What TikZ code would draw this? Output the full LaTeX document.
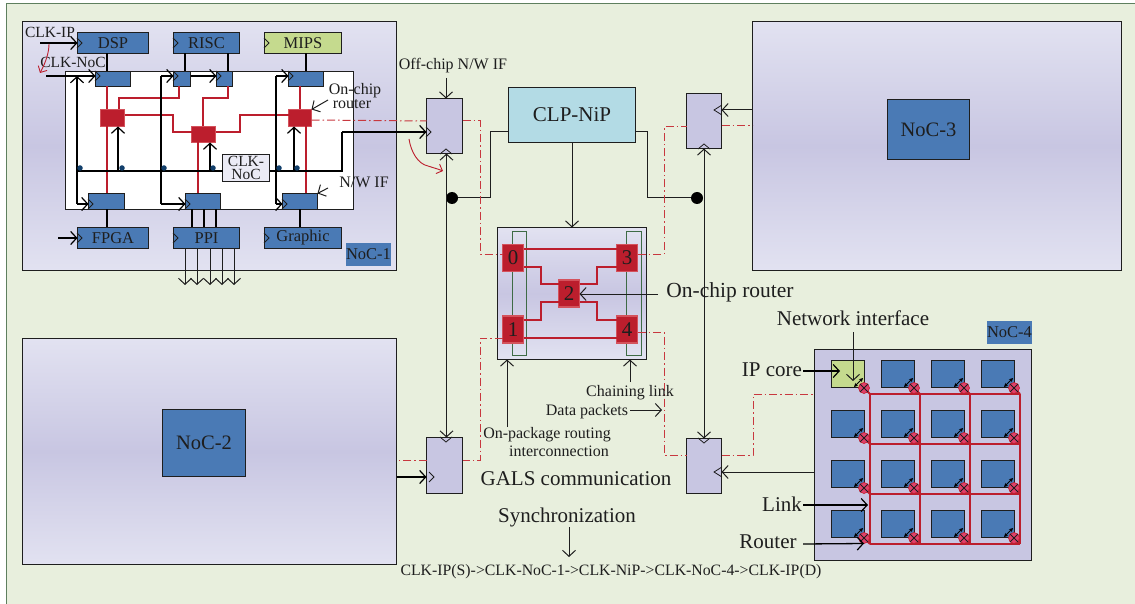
\documentclass[tikz,border=0pt]{standalone}
\usepackage{fontspec}
\setmainfont{Liberation Serif}
\usetikzlibrary{arrows.meta,calc}
\definecolor{bgc}{HTML}{E8EFDD}
\definecolor{frm}{HTML}{5E7F5E}
\definecolor{lav}{HTML}{C8C6E2}
\definecolor{lavl}{HTML}{E2E2F1}
\definecolor{blu}{HTML}{4A7AB5}
\definecolor{grn}{HTML}{C5DA8E}
\definecolor{rd}{HTML}{BC1E2D}
\definecolor{rdl}{HTML}{D4525C}
\definecolor{dashr}{HTML}{C8383F}
\definecolor{cyn}{HTML}{B3DBE5}
\definecolor{ink}{HTML}{1E1E1E}
\definecolor{pnk}{HTML}{E0406A}
\definecolor{dotb}{HTML}{123F6B}
\definecolor{chn}{HTML}{3E6B45}
\tikzset{
  every node/.style={text=ink,inner sep=0pt,outer sep=0pt,align=center},
  bar/.style={-{Straight Barb[length=6pt,width=13pt,line width=1pt]},line width=1pt,draw=ink},
  barb/.style={{Straight Barb[length=6pt,width=13pt,line width=1pt]}-{Straight Barb[length=6pt,width=13pt,line width=1pt]},line width=1pt,draw=ink},
  thk/.style={line width=1.3pt,draw=black},
  thkbar/.style={-{Straight Barb[length=6pt,width=13pt,line width=1.2pt]},line width=1.3pt,draw=black},
  rline/.style={line width=1.6pt,draw=rd},
  rthin/.style={line width=1.1pt,draw=rd},
  ddot/.style={line width=1pt,draw=dashr,dash pattern=on 8pt off 3pt on 1.5pt off 3pt},
  chev/.style={line width=.8pt,draw=ink},
  ipblk/.style={draw=ink,line width=1.1pt,fill=blu},
  gblk/.style={draw=ink,line width=1.1pt,fill=grn},
  nifs/.style={draw=ink,line width=1pt,fill=blu},
  offni/.style={draw=ink,line width=1.1pt,fill=lav},
  rtrs/.style={draw=rdl,line width=1pt,fill=rd},
  rtrb/.style={draw=rdl,line width=1.2pt,fill=rd},
  noc/.style={draw=ink,line width=1pt,shade,top color=lavl,bottom color=lavl,middle color=lav},
  lbl/.style={font=\fontsize{#1}{#1}\selectfont},
  lbl/.default=16,
  dotn/.style={circle,fill=dotb,minimum size=5.5pt},
  bdot/.style={circle,fill=black,minimum size=12pt},
}
% \bx{style}{name}{x1}{y1}{x2}{y2}{text}
\newcommand{\bx}[7]{%
  \pgfmathsetmacro{\bxcx}{(#3+#5)/2}\pgfmathsetmacro{\bxcy}{(#4+#6)/2}%
  \pgfmathsetmacro{\bxw}{#5-#3}\pgfmathsetmacro{\bxh}{#6-#4}%
  \node[#1,minimum width=\bxw pt-1pt,minimum height=\bxh pt-1pt] (#2) at (\bxcx,\bxcy) {#7};}
\newcommand{\chevL}[2]{\draw[chev] (#1,#2-5) -- (#1+5,#2) -- (#1,#2+5);}
\newcommand{\chevR}[2]{\draw[chev] (#1,#2-5) -- (#1-8,#2) -- (#1,#2+5);}
\newcommand{\chevU}[2]{\draw[chev] (#1-6,#2) -- (#1,#2-5) -- (#1+6,#2);}
\newcommand{\chevD}[2]{\draw[chev] (#1-6,#2) -- (#1,#2+5) -- (#1+6,#2);}
\begin{document}
\begin{tikzpicture}[x=1pt,y=-1pt,line join=miter]
\useasboundingbox (0,0) rectangle (1135,604);
\fill[white] (0,0) rectangle (1135,604);
\fill[bgc] (6,4) rectangle (1135,604);
\draw[frm,line width=1pt] (6,604) -- (6,4) -- (1135,4);

% ---- big NoC panels
\bx{noc}{noca}{22}{21}{397}{271}{}
\bx{noc}{nocb}{22}{338}{397}{565}{}
\bx{noc}{nocc}{752}{21}{1122}{271}{}
\bx{ipblk,lbl=20.5}{nocbin}{162}{409}{246}{477}{NoC-2}
\bx{ipblk,lbl=20.5}{noccin}{887}{99}{970}{160}{NoC-3}
\node[fill=blu,lbl=16.5,minimum width=45pt,minimum height=23pt] (noclbl) at (368.5,254.5) {NoC-1};

% ---- NoC-1 interior
\bx{draw=ink,line width=1pt,fill=white}{inner}{65}{71}{354}{210}{}
\bx{ipblk,lbl=16.5}{dsp}{77}{32}{149}{54}{DSP}
\bx{ipblk,lbl=16.5}{risc}{173}{32}{240}{54}{RISC}
\bx{gblk,lbl=16.5}{mips}{264}{32}{342}{54}{MIPS}
\bx{ipblk,lbl=16.5}{fpga}{77}{227}{149}{249}{FPGA}
\bx{ipblk,lbl=16.5}{ppi}{173}{227}{240}{249}{PPI}
\bx{ipblk,lbl=16.5}{graphic}{264}{227}{342}{249}{Graphic}
\bx{nifs}{nia}{95}{71}{131}{87}{}
\bx{nifs}{nib}{173}{71}{191}{87}{}
\bx{nifs}{nic}{216}{71}{233}{87}{}
\bx{nifs}{nid}{288}{71}{324}{87}{}
\bx{nifs}{nie}{88}{193}{125}{210}{}
\bx{nifs}{nif}{185}{193}{221}{210}{}
\bx{nifs}{nig}{282}{193}{318}{210}{}
\bx{draw=ink,line width=1pt,fill=lavl!70!white,lbl=15.5}{clk}{222}{154}{270}{182}{CLK-\\[-2pt]NoC}
\node[lbl=15.5] (tclkip) at (50,32) {CLK-IP};
\node[lbl=15.5] (tclknoc) at (73,62) {CLK-NoC};
\node[lbl=16] (tonchip) at (355,91) {On-chip};
\node[lbl=16] (trouter) at (352,104.5) {router};
\node[lbl=16] (tnwif) at (364,182) {N/W IF};

% IP to NI stubs
\draw[thk] (dsp.south -| 107,0) -- (nia.north -| 107,0);
\draw[thk] (risc.south -| 185,0) -- (nib.north -| 185,0);
\draw[thk] (risc.south -| 228,0) -- (nic.north -| 228,0);
\draw[thk] (mips.south -| 306,0) -- (nid.north -| 306,0);
\draw[thk] (nie.south -| 107,0) -- (fpga.north -| 107,0);
\draw[thk] (nig.south -| 300,0) -- (graphic.north -| 300,0);
\foreach \xx in {192,204,216} \draw[thk] (nif.south -| \xx,0) -- (ppi.north -| \xx,0);
\foreach \xx in {185,197,210,222,234} \draw[bar] (ppi.south -| \xx,0) -- (\xx,285);

% routers NoC-1 and links
\bx{rtrs}{ra}{100}{109}{125}{127}{}
\bx{rtrs}{rb}{191}{126}{216}{143}{}
\bx{rtrs}{rc}{288}{109}{312}{127}{}
\draw[rline] (nia.south -| 107,0) -- (ra.north -| 107,0);
\draw[rline] (ra.south -| 107,0) -- (nie.north -| 107,0);
\draw[rline] (nib.south -| 179,0) |- (119,98) -- (ra.north -| 119,0);
\draw[rline] (nic.south -| 228,0) |- (203,98) -- (rb.north -| 203,0);
\draw[rline] (nid.south -| 300,0) -- (rc.north -| 300,0);
\draw[rline] (rc.south -| 306,0) -- (nig.north -| 306,0);
\draw[rline] (rb.south -| 198,0) -- (nif.north -| 198,0);
\draw[rline] (ra.east |- 0,115) -- (173,115) |- (rb.west |- 0,132);
\draw[rline] (rb.east |- 0,132) -- (240,132) |- (rc.west |- 0,115);

% clock net inside NoC-1
\coordinate (wl) at (77,171);
\coordinate (wr) at (342,171);
\draw[thk] (wl) -- (clk.west |- wl);
\draw[thk] (clk.east |- wr) -- (wr) -- (342,132);
\draw[thkbar] (118,171) -- (ra.south -| 118,0);
\draw[thkbar] (210,171) -- (rb.south -| 210,0);
\draw[thkbar] (294,171) -- (rc.south -| 294,0);
\draw[thkbar] (77,204) -- (77,76);
\draw[thkbar] (161,76) -- (nib.west |- 0,76);
\draw[thkbar] (276,76) -- (nid.west |- 0,76);
\draw[thk] (161,76) -- (161,204);
\draw[thk] (276,76) -- (276,204);
\draw[thkbar] (77,204) -- (nie.west |- 0,204);
\draw[thkbar] (161,204) -- (nif.west |- 0,204);
\draw[thkbar] (276,204) -- (nig.west |- 0,204);
\draw[thkbar] (nib.east |- 0,76) -- (nic.west |- 0,76);
\draw[thkbar] (46,76) -- (nia.west |- 0,76);
\draw[thkbar] (40,43) -- (dsp.west |- 0,43);
\draw[thkbar] (58,238) -- (fpga.west |- 0,238);
\foreach \xx/\nn in {80/a,122/b,164/c,213/d,279/e,297/f} \node[dotn] (dot\nn) at (\xx,168) {};
\draw[rd,line width=.9pt,-{Straight Barb[length=5pt,width=10pt,line width=.9pt]}] (49,44) .. controls (49,52) and (46,62) .. (40,73);

\chevL{77}{43}\chevL{173}{43}\chevL{264}{43}
\chevL{77}{238}\chevL{173}{238}\chevL{264}{238}
\chevL{95}{76}\chevL{173}{76}\chevL{216}{76}\chevL{288}{76}
\chevL{88}{204}\chevL{185}{204}\chevL{282}{204}

\draw[bar] (328,100) -- (rc.north east);
\draw[bar] (328,188) -- (nig.north east);

% ---- off-chip NIs
\bx{offni}{oa}{426}{98}{463}{154}{}
\bx{offni}{ob}{686}{93}{722}{149}{}
\bx{offni}{oc}{426}{437}{463}{494}{}
\bx{offni}{od}{686}{438}{722}{494}{}
\bx{draw=ink,line width=1.1pt,fill=cyn,lbl=21}{clp}{508}{87}{636}{143}{CLP-NiP}
\chevL{426}{132}\chevU{446}{154}
\chevR{722}{110}\chevU{704}{149}
\chevD{446}{437}\chevL{429}{477}
\chevD{704}{438}\chevR{722}{472}

% ---- package
\bx{noc,line width=1.1pt}{pkg}{497}{227}{647}{360}{}
\bx{draw=chn,line width=1pt,fill=none}{cha}{512}{231}{527}{356}{}
\bx{draw=chn,line width=1pt,fill=none}{chb}{626}{231}{642}{356}{}
\node[rtrb,lbl=21,minimum width=21pt,minimum height=27pt] (p0) at (513,258) {0};
\node[rtrb,lbl=21,minimum width=21pt,minimum height=27pt] (p3) at (627,258) {3};
\node[rtrb,lbl=21,minimum width=21pt,minimum height=27pt] (p2) at (569,293.5) {2};
\node[rtrb,lbl=21,minimum width=21pt,minimum height=27pt] (p1) at (513,329.5) {1};
\node[rtrb,lbl=21,minimum width=21pt,minimum height=27pt] (p4) at (627,329.5) {4};
\draw[rthin] (p0.east |- 0,249) -- (p3.west |- 0,249);
\draw[rthin] (p1.east |- 0,338) -- (p4.west |- 0,338);
\draw[rthin] (p0.east |- 0,267) -- (541,267) |- (p2.west |- 0,284);
\draw[rthin] (p1.east |- 0,320) -- (541,320) |- (p2.west |- 0,302);
\draw[rthin] (p3.west |- 0,267) -- (597,267) |- (p2.east |- 0,284);
\draw[rthin] (p4.west |- 0,320) -- (597,320) |- (p2.east |- 0,302);

% ---- clock distribution
\coordinate (dl) at (452,198);
\coordinate (dr) at (697,198);
\draw[bar] (clp.south) -- (pkg.north -| clp.south);
\draw[line width=1pt,draw=ink] (clp.west |- 0,131.5) -- (490,131.5) |- (dl);
\draw[line width=1pt,draw=ink] (clp.east |- 0,131.5) -- (647,131.5) |- (dr);
\node[bdot] (dla) at (dl) {};
\node[bdot] (dra) at (dr) {};
\draw[barb] (oa.south -| 446.5,0) -- (oc.north -| 446.5,0);
\draw[barb] (ob.south -| 704,0) -- (od.north -| 704,0);

% ---- data connections
\draw[thkbar] (342,132) -- (oa.west |- 0,132);
\draw[thkbar] (nocb.east |- 0,477) -- (oc.west |- 0,477);
\draw[bar] (nocc.west |- 0,110) -- (ob.east |- 0,110);

% ---- dash-dot packets
\draw[ddot] (rc.east |- 0,120) -- (oa.west |- 0,121);
\draw[ddot] (oa.east |- 0,121) -- (480,121) |- (p0.west |- 0,254);
\draw[ddot] (p3.east |- 0,254) -- (664,254) |- (ob.west |- 0,127);
\draw[ddot] (ob.east |- 0,126) -- (nocc.west |- 0,126);
\draw[ddot] (p1.west |- 0,338) -- (480,338) |- (oc.east |- 0,460);
\draw[ddot] (oc.west |- 0,460) -- (nocb.east |- 0,460);
\draw[ddot] (p4.east |- 0,332) -- (664,332) |- (od.west |- 0,455);
\draw[ddot] (od.east |- 0,455) -- (753,455) |- (866,394);
\draw[rd,line width=.9pt,-{Straight Barb[length=5pt,width=10pt,line width=.9pt]}] (409,139) .. controls (411,152) and (418,164) .. (428,166) .. controls (434,168) and (438,169) .. (443,171);

% ---- NoC-4
\bx{draw=ink,line width=1pt,fill=lav}{nocd}{814}{349}{1032}{561}{}
\node[fill=blu,lbl=16.5,minimum width=45pt,minimum height=23pt] (nocdl) at (1009.5,332.5) {NoC-4};
\draw[bar] (nocd.west |- 0,472) -- (od.east |- 0,472);
\foreach \c/\xx in {0/848,1/898,2/948,3/998}
  \foreach \r/\yy in {0/374,1/424,2/474,3/524}{
    \pgfmathtruncatemacro{\isip}{\c==0 && \r==0 ? 1 : 0}
    \ifnum\isip=1
      \node[gblk,minimum width=33pt,minimum height=27pt] (c\c\r) at (\xx,\yy) {};
    \else
      \node[ipblk,minimum width=33pt,minimum height=27pt] (c\c\r) at (\xx,\yy) {};
    \fi
  }
\foreach \xx in {870,920,970,1020} \draw[rline,line width=2pt] (\xx,394) -- (\xx,544);
\foreach \yy in {394,444,494,544} \draw[rline,line width=2pt] (870,\yy) -- (1020,\yy);
\foreach \c/\xx in {0/864,1/914,2/964,3/1014}
  \foreach \r/\yy in {0/388,1/438,2/488,3/538}{
    \draw[rline,line width=2pt] (\xx,\yy) -- (\xx+6,\yy+6);
    \node[circle,fill=pnk,draw=rd,line width=.6pt,minimum size=11pt] (r\c\r) at (\xx,\yy) {};
    \draw[line width=.8pt,draw=ink] (r\c\r.north west) -- (r\c\r.south east) (r\c\r.north east) -- (r\c\r.south west);
    \draw[line width=1pt,draw=black,{Stealth[length=4pt,width=4pt]}-{Stealth[length=4pt,width=4pt]}] (\xx-10,\yy-1) -- (\xx-1,\yy-10);
  }

% ---- free labels
\node[lbl=16] (toff) at (453,66) {Off-chip N/W IF};
\draw[bar] (446,78) -- (oa.north -| 446,0);
\node[lbl=21.5] (tochip) at (730,292) {On-chip router};
\draw[bar] (658,294) -- (p2.east |- 0,294);
\node[lbl=16] (tchain) at (630,393) {Chaining link};
\draw[bar] (630,382) -- (pkg.south -| 630,0);
\node[lbl=16] (tdata) at (587,412) {Data packets};
\draw[bar] (630,410) -- (662,410);
\node[lbl=16] (tpkg) at (547,435) {On-package routing};
\node[lbl=16] (tint) at (559,451) {interconnection};
\draw[bar] (507,427) -- (pkg.south -| 507,0);
\node[lbl=21] (tgals) at (576,479) {GALS communication};
\node[lbl=21] (tsync) at (567,517.5) {Synchronization};
\draw[bar] (569,527) -- (569,557);
\node[lbl=15.8] (tseq) at (611,572) {CLK-IP(S)->CLK-NoC-1->CLK-NiP->CLK-NoC-4->CLK-IP(D)};
\node[lbl=21] (tnet) at (853,318) {Network interface};
\draw[bar] (853,332) -- (853,381);
\node[lbl=21] (tip) at (772,370) {IP core};
\draw[thkbar] (803,371) -- (840,371);
\node[lbl=21] (tlink) at (782,504) {Link};
\draw[thkbar] (803,505) -- (868,505);
\node[lbl=21] (trt) at (768,542) {Router};
\draw[thkbar] (803,544) -- (r03.south);
\end{tikzpicture}
\end{document}
